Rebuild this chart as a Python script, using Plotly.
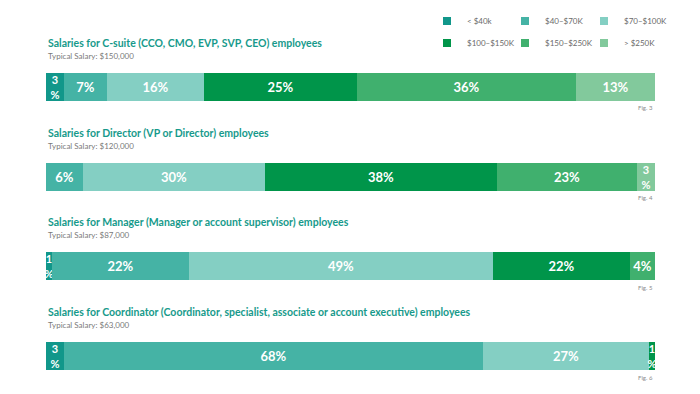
import plotly.graph_objects as go

# ---------------- data ----------------
categories = ["< $40k", "$40–$70K", "$70–$100K", "$100–$150K", "$150–$250K", "> $250K"]
colors = ["#11978a", "#45b3a5", "#84cfc3", "#00954a", "#40b06e", "#82c99c"]

titles = [
    "Salaries for C-suite (CCO, CMO, EVP, SVP, CEO) employees",
    "Salaries for Director (VP or Director) employees",
    "Salaries for Manager (Manager or account supervisor) employees",
    "Salaries for Coordinator (Coordinator, specialist, associate or account executive) employees",
]
typical_salary = ["$150,000", "$120,000", "$87,000", "$63,000"]
fig_labels = ["Fig. 3", "Fig. 4", "Fig. 5", "Fig. 6"]

csuite = [3, 7, 16, 25, 36, 13]
director = [0, 6, 30, 38, 23, 3]
manager = [1, 22, 49, 22, 4, 0]
coordinator = [3, 68, 27, 1, 0, 0]
rows = [csuite, director, manager, coordinator]

# ---------------- layout geometry ----------------
W, H = 700, 394
x0, x1 = 46 / W, 655 / W
bar_px = [(73, 101), (163, 191), (252, 280), (342, 370)]
legend_x_px = [427, 505, 584]
legend_y_px = [21, 43]
font = "Lato"
title_color = "#179a8b"

fig = go.Figure()

for r, vals in enumerate(rows):
    ax = "" if r == 0 else str(r + 1)
    for c, v in enumerate(vals):
        if v == 0:
            continue
        narrow = v <= 3
        label = f"{v}<br>%" if narrow else f"{v}%"
        fig.add_trace(go.Bar(
            x=[v], y=["s"], orientation="h",
            marker=dict(color=colors[c], line=dict(width=0)),
            text=[label], textposition="inside", insidetextanchor="middle",
            constraintext="none",
            textfont=dict(family=font, size=11 if narrow else 13, color="white", weight="bold"),
            showlegend=False, hoverinfo="skip",
            xaxis="x" + ax, yaxis="y" + ax,
        ))

layout = dict(
    width=W, height=H, margin=dict(l=0, r=0, t=0, b=0),
    paper_bgcolor="white", plot_bgcolor="white",
    barmode="stack", bargap=0,
    showlegend=True,
    font=dict(family=font),
)

# legend-only entries, one small legend per category (2 rows x 3 columns)
for c, name in enumerate(categories):
    lg = "legend" if c == 0 else f"legend{c + 1}"
    fig.add_trace(go.Scatter(
        x=[None], y=[None], mode="markers", name=name,
        marker=dict(symbol="square", size=8, color=colors[c]),
        legend=lg, xaxis="x", yaxis="y",
    ))
    layout[lg] = dict(orientation="h", x=legend_x_px[c % 3] / W, xanchor="left",
                      y=1 - legend_y_px[c // 3] / H, yanchor="middle",
                      itemwidth=30, bgcolor="rgba(0,0,0,0)",
                      font=dict(family=font, size=8, color="#6a6a6a"))

annotations = []
for r, vals in enumerate(rows):
    sfx = "" if r == 0 else str(r + 1)
    top, bot = bar_px[r]
    layout["xaxis" + sfx] = dict(domain=[x0, x1], range=[0, sum(vals)], visible=False,
                                 fixedrange=True, anchor="y" + sfx)
    layout["yaxis" + sfx] = dict(domain=[1 - bot / H, 1 - top / H], range=[-0.5, 0.5],
                                 visible=False, fixedrange=True, anchor="x" + sfx)
    annotations.append(dict(
        text=titles[r], x=x0, y=1 - (top - 30) / H, xref="paper", yref="paper",
        xanchor="left", yanchor="middle", showarrow=False,
        font=dict(family=font, size=10.5, color=title_color, weight="bold")))
    annotations.append(dict(
        text="Typical Salary: " + typical_salary[r], x=x0, y=1 - (top - 17) / H,
        xref="paper", yref="paper", xanchor="left", yanchor="middle", showarrow=False,
        font=dict(family=font, size=8, color="#7a7a7a")))
    annotations.append(dict(
        text=fig_labels[r], x=x1, y=1 - (bot + 7) / H, xref="paper", yref="paper",
        xanchor="right", yanchor="middle", showarrow=False,
        font=dict(family=font, size=6, color="#8a8a8a")))
layout["annotations"] = annotations

fig.update_layout(**layout)
fig.write_html("out.html", config={"displayModeBar": False},
               post_script="document.body.style.margin='0';document.body.style.padding='0';")
